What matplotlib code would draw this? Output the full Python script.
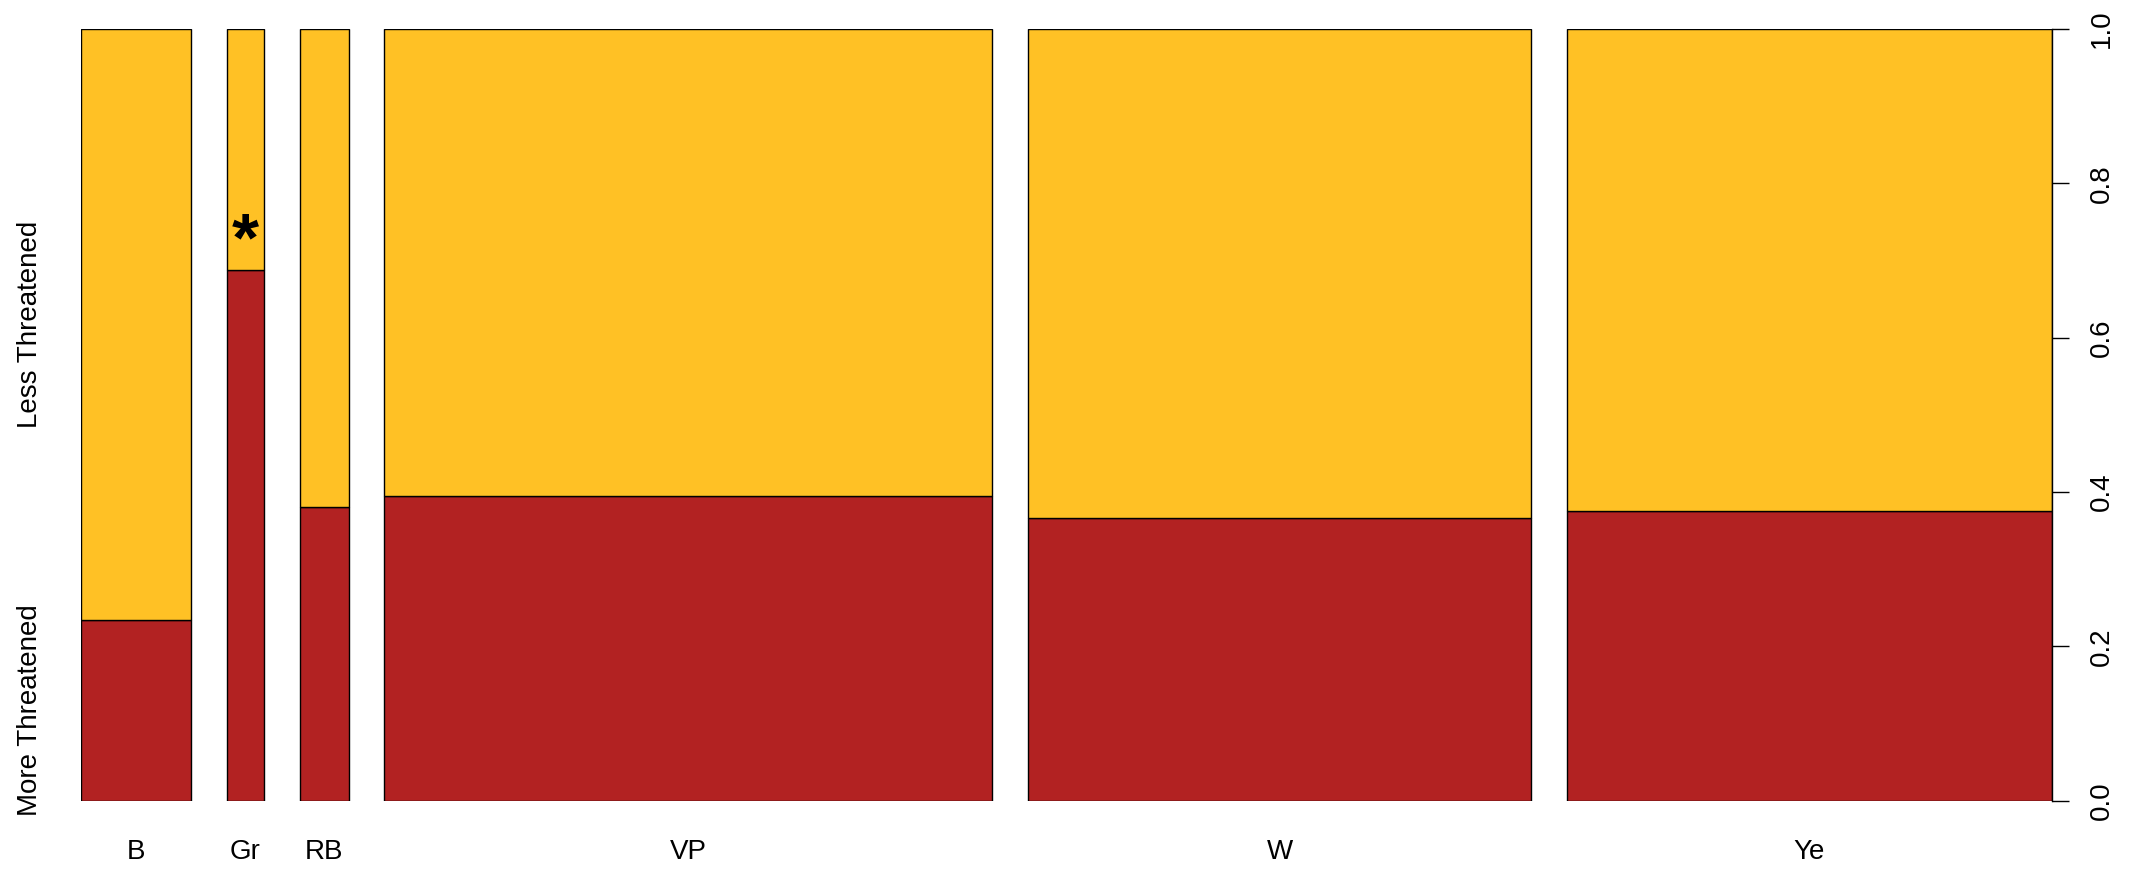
import numpy as np
import matplotlib
matplotlib.use("Agg")
import matplotlib.pyplot as plt
from matplotlib.transforms import blended_transform_factory

plt.rcParams['font.family'] = ['Liberation Sans', 'DejaVu Sans']

# Species counts per group, split by threat status
groups = ["B", "Gr", "RB", "VP", "W", "Ye"]
more_threatened = [11, 11, 8, 103, 79, 78]
less_threatened = [36, 5, 13, 158, 137, 130]
status_labels = ["More Threatened", "Less Threatened"]
y_ticks = [0.0, 0.2, 0.4, 0.6, 0.8, 1.0]
flagged_group = "Gr"

col_more = "#B22222"
col_less = "#FFC125"
off = 0.02  # gap between spines, as a fraction of the total width
fs = 20

more = np.array(more_threatened, dtype=float)
less = np.array(less_threatened, dtype=float)
totals = more + less
widths = totals / totals.sum()
lefts = np.concatenate([[0.0], np.cumsum(widths + off)[:-1]])
p_more = more / totals

W, H = 2129, 871
fig = plt.figure(figsize=(W / 100, H / 100), dpi=100)
ax = fig.add_axes([81.3 / W, 1 - 800.7 / H, 1970.4 / W, 771.7 / H])

ax.bar(lefts, p_more, width=widths, align="edge", color=col_more,
       edgecolor="black", linewidth=1.0)
ax.bar(lefts, 1 - p_more, bottom=p_more, width=widths, align="edge",
       color=col_less, edgecolor="black", linewidth=1.0)

ax.set_xlim(0, 1 + off * (len(groups) - 1))
ax.set_ylim(0, 1)

for side in ("top", "bottom", "left"):
    ax.spines[side].set_visible(False)
ax.spines["right"].set_linewidth(1.0)

# category labels under each spine
ax.set_xticks(lefts + widths / 2)
ax.set_xticklabels(groups)
ax.tick_params(axis="x", length=0, pad=27.5, labelsize=fs)

# proportion axis on the right
ax.yaxis.tick_right()
ax.set_yticks(y_ticks)
ax.set_yticklabels([f"{t:.1f}" for t in y_ticks], rotation=90, va="center")
ax.tick_params(axis="y", length=12.5, width=1.0, pad=14.5, labelsize=fs)

# status labels centred on the segments of the first spine
tr = blended_transform_factory(ax.transAxes, ax.transData)
ax.text(-0.026, p_more[0] / 2, status_labels[0], rotation=90,
        ha="center", va="center", fontsize=fs, transform=tr)
ax.text(-0.026, p_more[0] + (1 - p_more[0]) / 2, status_labels[1], rotation=90,
        ha="center", va="center", fontsize=fs, transform=tr)

# significance marker above the red segment
gi = groups.index(flagged_group)
ax.text(lefts[gi] + widths[gi] / 2, p_more[gi] + 0.012, "*",
        ha="center", va="baseline", fontsize=50, fontweight="bold")

fig.savefig("out.png", dpi=100)
